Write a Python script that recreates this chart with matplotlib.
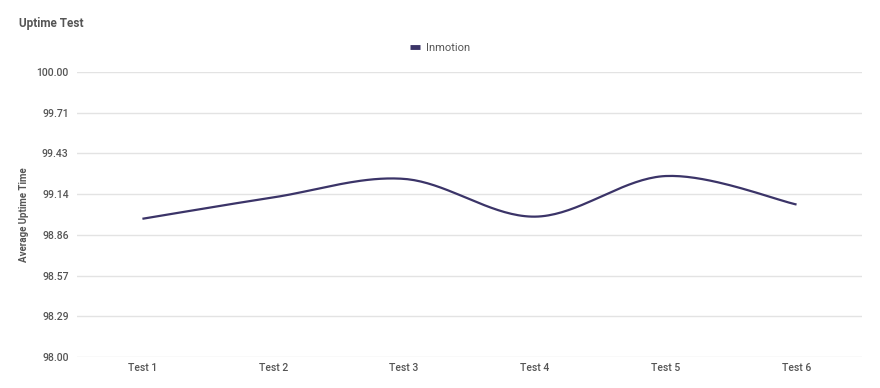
import matplotlib
matplotlib.use('Agg')
from matplotlib import pyplot as plt
import numpy as np

plt.rcParams['font.family'] = ['Roboto', 'DejaVu Sans']

tests = ['Test 1', 'Test 2', 'Test 3', 'Test 4', 'Test 5', 'Test 6']
uptime = [98.97, 99.12, 99.25, 98.985, 99.27, 99.07]
y_ticks = [98.00, 98.29, 98.57, 98.86, 99.14, 99.43, 99.71, 100.00]

line_color = '#3b3468'
text_color = '#555555'


def smooth(xs, ys, steps=40, t=0.5):
    # cardinal spline through the points, like the "function" curve of the original
    xs = np.asarray(xs, float)
    ys = np.asarray(ys, float)
    px = np.concatenate([[xs[0]], xs, [xs[-1]]])
    py = np.concatenate([[ys[0]], ys, [ys[-1]]])
    out_x, out_y = [], []
    for i in range(1, len(px) - 2):
        p0, p1, p2, p3 = (np.array([px[j], py[j]]) for j in (i - 1, i, i + 1, i + 2))
        m1 = t * (p2 - p0)
        m2 = t * (p3 - p1)
        s = np.linspace(0, 1, steps)
        h00 = 2 * s**3 - 3 * s**2 + 1
        h10 = s**3 - 2 * s**2 + s
        h01 = -2 * s**3 + 3 * s**2
        h11 = s**3 - s**2
        pts = np.outer(h00, p1) + np.outer(h10, m1) + np.outer(h01, p2) + np.outer(h11, m2)
        out_x.extend(pts[:, 0])
        out_y.extend(pts[:, 1])
    return out_x, out_y


fig = plt.figure(figsize=(8.8, 3.88), dpi=100)
ax = fig.add_axes([0.0875, 0.0799, 0.892, 0.7345])

x = np.arange(len(tests))
sx, sy = smooth(x, uptime)
ax.plot(sx, sy, color=line_color, lw=1.6, label='Inmotion', solid_capstyle='butt')

ax.set_xlim(-0.5, len(tests) - 0.5)
ax.set_ylim(98.0, 100.0)
ax.set_yticks(np.linspace(98.0, 100.0, 8))
ax.set_yticklabels(['%.2f' % v for v in y_ticks])
ax.set_xticks(x)
ax.set_xticklabels(tests)

ax.grid(axis='y', color='#e3e3e3', lw=1)
ax.set_axisbelow(True)
for s in ax.spines.values():
    s.set_visible(False)
ax.tick_params(length=0, colors=text_color, labelsize=7.5)
ax.tick_params(axis='y', pad=6)
ax.tick_params(axis='x', pad=4)
for lab in ax.get_yticklabels() + ax.get_xticklabels():
    lab.set_fontweight('medium')

ax.set_ylabel('Average Uptime Time', fontsize=7, color=text_color, fontweight='bold', labelpad=5)
fig.text(19 / 880, 1 - 23 / 388, 'Uptime Test', fontsize=8.5, fontweight='bold',
         color=text_color, ha='left', va='center')

leg = ax.legend(loc='center', frameon=False, fontsize=8, handlelength=0.9, handletextpad=0.6)
leg.set_bbox_to_anchor((440 / 880, 1 - 48 / 388), transform=fig.transFigure)
for h in leg.get_lines():
    h.set_linewidth(3.5)
for t in leg.get_texts():
    t.set_color(text_color)

fig.savefig('out.png', dpi=100)
